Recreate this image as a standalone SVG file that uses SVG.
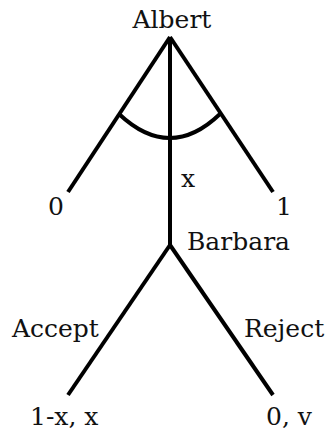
<svg xmlns="http://www.w3.org/2000/svg" width="326" height="436" viewBox="0 0 326 436">
<style>
.e{stroke:#000;stroke-width:4;fill:none;stroke-linecap:butt}
</style>
<rect width="326" height="436" fill="#fff"/>
<g id="connectors">
<path class="e" d="M170,37 L68,192"/>
<path class="e" d="M170,37 L273,192"/>
<path class="e" d="M170,37 L170,245"/>
<path class="e" d="M119,114 Q170,162 220,114"/>
<path class="e" d="M170,245 L68,395"/>
<path class="e" d="M170,245 L273,395"/>
</g>
<g font-family="DejaVu Serif" font-size="25" fill="#111">
<g id="albert"><text x="172" y="28" text-anchor="middle">Albert</text></g>
<g id="offer-label"><text x="181" y="187">x</text></g>
<g id="leaf-0"><text x="48" y="215">0</text></g>
<g id="leaf-1"><text x="276" y="215">1</text></g>
<g id="barbara"><text x="187" y="250">Barbara</text></g>
<g id="accept-label"><text x="12" y="337">Accept</text></g>
<g id="reject-label"><text x="244" y="337">Reject</text></g>
<g id="leaf-accept"><text x="30" y="425">1-x, x</text></g>
<g id="leaf-reject"><text x="266" y="425">0, v</text></g>
</g>
</svg>
